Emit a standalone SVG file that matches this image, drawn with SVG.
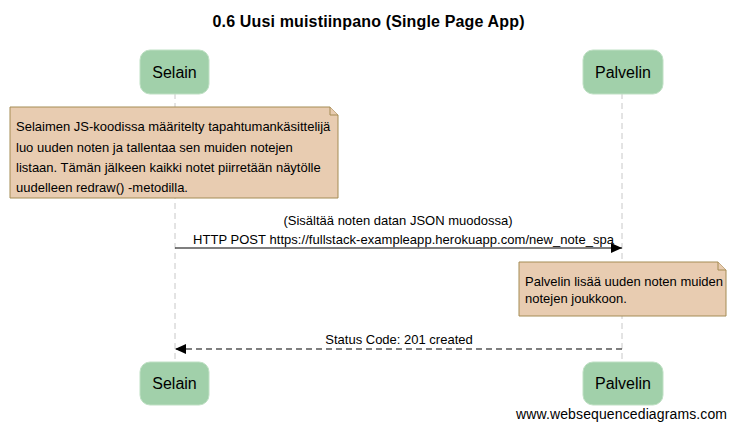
<svg xmlns="http://www.w3.org/2000/svg" width="736" height="429" viewBox="0 0 736 429">
<style>
text{font-family:"Liberation Sans",Arial,sans-serif;fill:#000}
.title{font-size:16px;font-weight:bold;text-anchor:middle}
.pbox{fill:#a1d0aa;stroke:#bfe0c4;stroke-width:1}
.pname{font-size:16px;text-anchor:middle}
.life{stroke:#c8c8c8;stroke-width:1;stroke-dasharray:6,4;fill:none}
.note{fill:#e8ccb1;stroke:#a58c55;stroke-width:1}
.ntext{font-size:13px}
.msg{stroke:#000;stroke-width:1.2;fill:none}
.mtext{font-size:13px;text-anchor:middle}
</style>
<defs>
<marker id="ah" markerWidth="12" markerHeight="10" refX="11" refY="5" orient="auto" markerUnits="userSpaceOnUse">
<path d="M0,0 L11,5 L0,10 Z" fill="#000"/>
</marker>
</defs>
<text class="title" x="368.5" y="27" textLength="312">0.6 Uusi muistiinpano (Single Page App)</text>
<g id="lifelines">
<line class="life" x1="175" y1="93" x2="175" y2="363"/>
<line class="life" x1="622" y1="93" x2="622" y2="363"/>
</g>
<g id="selain-top"><rect class="pbox" x="140" y="50" width="69" height="44" rx="10"/><text class="pname" x="174.5" y="78">Selain</text></g>
<g id="palvelin-top"><rect class="pbox" x="583" y="50" width="80" height="44" rx="10"/><text class="pname" x="623" y="78">Palvelin</text></g>
<g id="selain-bottom"><rect class="pbox" x="140" y="362" width="69" height="43" rx="10"/><text class="pname" x="174.5" y="389">Selain</text></g>
<g id="palvelin-bottom"><rect class="pbox" x="583" y="362" width="80" height="43" rx="10"/><text class="pname" x="623" y="389">Palvelin</text></g>
<g id="note1">
<path class="note" d="M10,107 H330 L338,115 V198 H10 Z"/>
<path class="note" d="M330,107 V115 H338" fill="none"/>
<text class="ntext" x="16" y="131">Selaimen JS-koodissa määritelty tapahtumankäsittelijä</text>
<text class="ntext" x="16" y="152">luo uuden noten ja tallentaa sen muiden notejen</text>
<text class="ntext" x="16" y="172">listaan. Tämän jälkeen kaikki notet piirretään näytölle</text>
<text class="ntext" x="16" y="192">uudelleen redraw() -metodilla.</text>
</g>
<g id="note2">
<path class="note" d="M519,262 H718 L726,270 V316 H519 Z"/>
<path class="note" d="M718,262 V270 H726" fill="none"/>
<text class="ntext" x="525" y="286">Palvelin lisää uuden noten muiden</text>
<text class="ntext" x="525" y="303">notejen joukkoon.</text>
</g>
<g id="connectors">
<line class="msg" x1="175" y1="248" x2="622" y2="248" marker-end="url(#ah)"/>
<text class="mtext" x="398" y="225">(Sisältää noten datan JSON muodossa)</text>
<text class="mtext" x="403.5" y="244" textLength="421">HTTP POST https://fullstack-exampleapp.herokuapp.com/new_note_spa</text>
<line class="msg" x1="622" y1="349" x2="175" y2="349" stroke-dasharray="6,4" marker-end="url(#ah)"/>
<text class="mtext" x="399" y="344">Status Code: 201 created</text>
</g>
<text x="727" y="419" font-size="14" text-anchor="end" textLength="211">www.websequencediagrams.com</text>
</svg>
